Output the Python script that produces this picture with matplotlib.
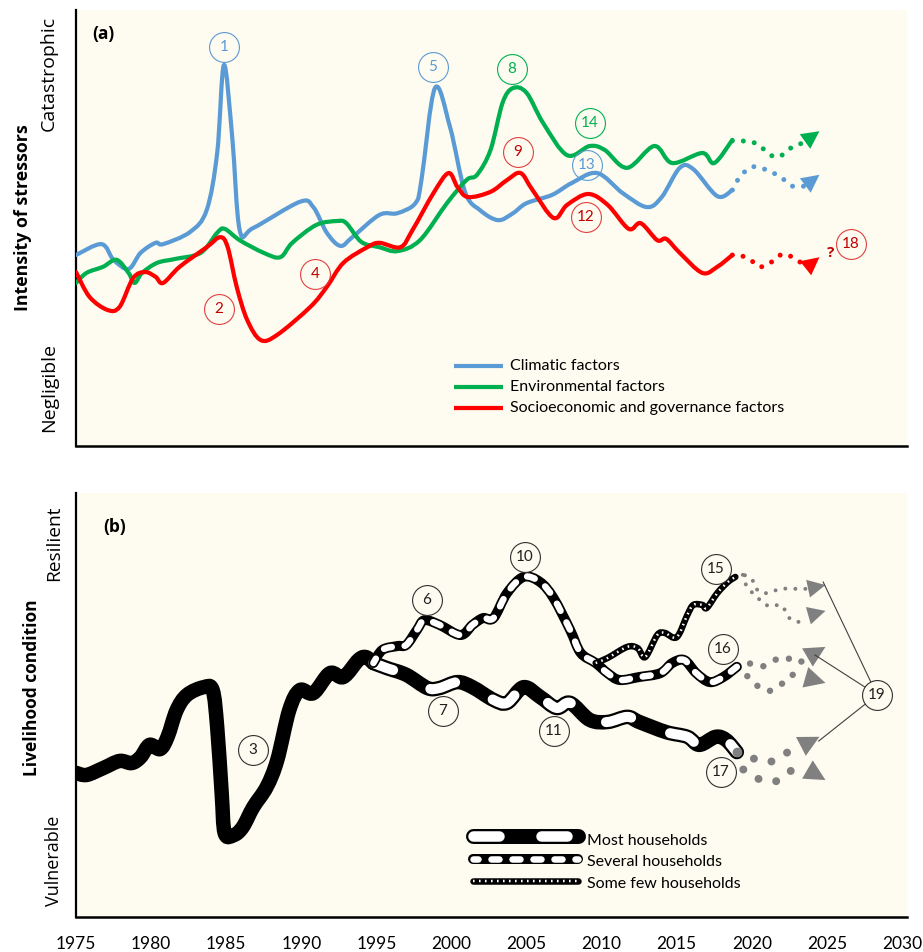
import numpy as np
import matplotlib
matplotlib.use('Agg')
import matplotlib.pyplot as plt
from matplotlib.path import Path
from matplotlib.patches import PathPatch

plt.rcParams['lines.scale_dashes'] = False

# ------------------------- DATA -------------------------
# Panel (a): intensity of stressors (0 = negligible, 100 = catastrophic)
clim_years = [1975.0, 1976.7, 1977.5, 1978.5, 1979.3, 1980.3, 1980.8, 1982.6, 1983.7, 1984.4, 1984.85,
              1985.4, 1985.9, 1986.8, 1989.9, 1990.8, 1991.7, 1992.6, 1993.4, 1995.2, 1996.4, 1997.6,
              1998.0, 1998.9, 1999.9, 2000.9, 2001.9, 2003.1, 2004.1, 2005.0, 2006.7, 2008.0, 2009.7,
              2011.4, 2013.0, 2014.0, 2015.2, 2016.1, 2017.7, 2018.7]
clim_vals = [43.8, 46.3, 42.7, 40.6, 44.3, 46.6, 46.3, 49.1, 54.1, 67.2, 87.4,
             70.9, 49.5, 50.0, 56.0, 54.8, 48.9, 45.9, 47.9, 53.0, 53.4, 55.7,
             61.0, 82.1, 73.2, 58.3, 54.1, 51.8, 53.4, 55.7, 57.6, 60.3, 62.6,
             58.0, 54.8, 57.1, 63.8, 63.5, 57.3, 58.7]
clim_proj_years = [2018.7, 2019.2, 2020.0, 2021.0, 2021.9, 2022.7, 2023.5]
clim_proj_vals = [58.7, 61.7, 64.0, 63.3, 61.7, 59.6, 59.6]
clim_tip = (2024.5, 62.2)

env_years = [1975.0, 1975.7, 1976.8, 1977.7, 1978.5, 1978.9, 1979.4, 1980.4, 1981.6, 1983.3, 1984.4,
             1984.9, 1985.9, 1987.5, 1988.6, 1989.4, 1991.0, 1992.4, 1993.0, 1994.0, 1995.2, 1996.4,
             1997.9, 1999.7, 2001.0, 2001.7, 2002.6, 2003.4, 2004.1, 2005.0, 2006.1, 2007.7, 2009.2,
             2010.2, 2011.7, 2013.5, 2014.7, 2016.7, 2017.5, 2018.7]
env_vals = [37.4, 39.7, 41.1, 42.7, 39.7, 37.4, 39.7, 42.0, 42.9, 44.3, 48.9,
            49.8, 47.2, 44.3, 43.3, 46.6, 50.7, 51.6, 51.1, 46.8, 45.6, 44.7,
            47.2, 55.7, 61.0, 62.2, 67.9, 78.7, 82.1, 81.0, 74.1, 66.7, 68.8,
            67.9, 63.8, 68.8, 64.9, 67.2, 64.9, 70.2]
env_proj_years = [2018.7, 2019.2, 2020.2, 2021.1, 2021.5, 2022.0, 2022.7, 2023.4]
env_proj_vals = [70.0, 70.0, 69.5, 67.2, 66.3, 66.7, 68.6, 69.5]
env_tip = (2024.5, 72.2)

soc_years = [1975.0, 1975.9, 1977.1, 1977.9, 1978.8, 1979.6, 1980.3, 1980.8, 1981.9, 1983.7, 1984.6,
             1985.1, 1985.7, 1986.4, 1987.3, 1988.4, 1990.6, 1991.7, 1992.8, 1994.4, 1995.2, 1996.6,
             1997.4, 1998.8, 1999.8, 2000.4, 2001.1, 2002.6, 2003.7, 2004.6, 2005.4, 2006.8, 2007.7,
             2009.1, 2010.4, 2011.8, 2012.6, 2013.7, 2014.3, 2015.2, 2016.7, 2017.7, 2018.7]
soc_vals = [39.9, 34.2, 31.2, 31.9, 38.5, 39.9, 38.8, 37.4, 41.1, 45.6, 47.9,
            45.6, 36.5, 28.9, 24.3, 25.5, 31.9, 36.5, 42.0, 45.6, 46.6, 45.6,
            49.5, 58.0, 62.6, 59.4, 57.1, 58.3, 61.0, 62.6, 58.7, 52.3, 55.3,
            57.8, 55.3, 49.8, 51.1, 47.2, 47.5, 44.3, 39.7, 41.1, 43.8]
soc_proj_years = [2018.7, 2019.2, 2020.1, 2020.5, 2021.1, 2021.9, 2022.4, 2023.2, 2023.7]
soc_proj_vals = [43.8, 43.8, 42.2, 41.1, 41.7, 43.8, 43.8, 42.2, 41.1]
soc_tip = (2024.5, 43.3)

top_labels = ['1', '2', '4', '5', '8', '9', '12', '13', '14', '18']
top_label_x = [1984.85, 1984.52, 1990.91, 1998.77, 2004.03, 2004.43, 2008.95, 2009.02, 2009.22, 2026.6]
top_label_y = [91.5, 31.4, 39.4, 86.9, 86.5, 67.4, 52.5, 64.4, 74.1, 46.3]
top_label_series = ['clim', 'soc', 'soc', 'clim', 'env', 'soc', 'soc', 'clim', 'env', 'soc']

# Panel (b): livelihood condition (0 = vulnerable, 100 = resilient)
main_years = [1975.0, 1975.7, 1976.8, 1977.9, 1978.7, 1979.3, 1979.9, 1980.6, 1981.1, 1981.7, 1982.4,
              1983.5, 1984.1, 1984.4, 1984.7, 1984.9, 1985.5, 1986.1, 1986.8, 1987.7, 1988.4, 1989.2,
              1989.9, 1990.8, 1991.9, 1992.8, 1993.8, 1994.3, 1994.8]
main_vals = [34.0, 33.5, 35.1, 36.8, 36.3, 37.7, 40.6, 39.6, 42.5, 48.8, 52.4,
             54.2, 53.5, 44.8, 29.2, 19.8, 19.3, 21.2, 25.9, 30.7, 37.0, 48.8,
             53.5, 52.8, 57.5, 56.6, 60.6, 61.3, 59.9]
most_years = [1994.8, 1995.7, 1997.0, 1998.4, 1999.2, 2000.4, 2001.4, 2002.8, 2003.7, 2004.8, 2005.9,
              2007.0, 2007.9, 2009.2, 2010.4, 2011.7, 2012.5, 2014.3, 2015.7, 2016.5, 2017.6, 2018.3, 2019.0]
most_vals = [59.9, 58.7, 57.1, 54.0, 54.0, 55.4, 54.2, 51.2, 50.5, 54.2, 51.9,
             49.3, 50.5, 46.5, 46.0, 47.2, 46.0, 43.6, 42.5, 40.6, 42.5, 41.7, 38.9]
several_years = [1994.8, 1995.4, 1996.4, 1997.0, 1997.7, 1998.2, 1999.2, 2000.6, 2001.4, 2002.1, 2002.8,
                 2003.7, 2004.8, 2005.9, 2006.8, 2007.9, 2008.6, 2009.6, 2010.4, 2011.2, 2012.5, 2013.9,
                 2014.7, 2015.5, 2016.3, 2017.2, 2018.1, 2019.0]
several_vals = [59.9, 63.0, 63.9, 64.2, 67.7, 70.0, 68.9, 66.5, 68.9, 70.5, 70.5,
                76.4, 80.2, 79.0, 75.2, 67.7, 62.3, 59.9, 57.5, 55.9, 56.6, 57.5,
                59.9, 60.6, 57.5, 55.4, 56.6, 59.0]
few_years = [2009.6, 2010.4, 2011.7, 2012.4, 2012.9, 2013.7, 2014.2, 2015.0, 2015.7, 2016.1, 2016.7,
             2017.0, 2017.7, 2018.4, 2018.9]
few_vals = [59.9, 61.1, 63.7, 63.4, 61.3, 66.5, 67.0, 66.0, 71.2, 73.6, 73.6,
            72.9, 76.4, 79.0, 80.2]

# grey scenario projections: (years, values, arrow tip)
proj_few_up = ([2018.9, 2019.4, 2020.0, 2020.2, 2020.7, 2021.3, 2021.9, 2022.5, 2023.2, 2023.7],
               [80.2, 80.7, 79.7, 77.8, 76.4, 76.7, 77.4, 77.4, 77.4, 77.4], (2024.9, 78.3))
proj_few_down = ([2019.4, 2019.7, 2020.7, 2021.2, 2021.9, 2022.2, 2022.5, 2023.1, 2023.5],
                 [80.7, 77.8, 74.3, 73.3, 73.6, 72.4, 70.5, 69.6, 70.8], (2024.9, 72.2))
proj_sev_up = ([2019.0, 2019.7, 2020.6, 2021.4, 2022.2, 2023.0, 2023.6],
               [59.0, 59.9, 59.0, 60.4, 61.3, 59.9, 61.0], (2024.9, 63.7))
proj_sev_down = ([2019.0, 2019.7, 2020.3, 2021.1, 2022.0, 2022.7, 2023.5],
                 [59.0, 56.8, 54.7, 53.3, 55.0, 57.1, 56.6], (2024.9, 55.2))
proj_most_up = ([2019.0, 2020.0, 2021.2, 2022.3, 2023.3],
                [38.7, 37.5, 36.6, 38.7, 40.3], (2024.5, 42.5))
proj_most_down = ([2019.0, 2019.4, 2020.5, 2021.7, 2022.7, 2023.4],
                  [38.7, 34.9, 32.5, 32.1, 34.7, 35.4], (2024.9, 32.3))

bot_labels = ['3', '6', '7', '10', '11', '15', '16', '17', '19']
bot_label_x = [1986.78, 1998.37, 1999.43, 2004.89, 2006.82, 2017.61, 2018.08, 2017.94, 2028.33]
bot_label_y = [39.4, 74.8, 48.6, 84.9, 43.9, 82.1, 63.2, 34.2, 52.4]

xticks = [1975, 1980, 1985, 1990, 1995, 2000, 2005, 2010, 2015, 2020, 2025, 2030]

# ------------------------- STYLE -------------------------
BG = '#FEFCF0'
COL = {'clim': '#5B9BD5', 'env': '#00B050', 'soc': '#FF0000'}
TXT = {'clim': '#5B9BD5', 'env': '#00B050', 'soc': '#C00000'}
GREY = '#808080'
PX = 0.72  # points per pixel at 100 dpi
NUMFONT = ['Lato', 'DejaVu Sans']
LABFONT = ['Open Sans', 'DejaVu Sans']

W, H = 923, 952
fig = plt.figure(figsize=(W / 100, H / 100), dpi=100)


def px_axes(l, t, r, b):
    return fig.add_axes([l / W, 1 - b / H, (r - l) / W, (b - t) / H])


ax1 = px_axes(76, 10, 907, 446)
ax2 = px_axes(76, 493, 907, 917)
for ax in (ax1, ax2):
    ax.set_facecolor(BG)
    ax.set_xlim(1975, 2030.33)
    ax.set_ylim(0, 100)
    ax.spines['top'].set_visible(False)
    ax.spines['right'].set_visible(False)
    ax.spines['left'].set_linewidth(1.6)
    ax.spines['bottom'].set_linewidth(1.8)
    ax.set_yticks([])
ax1.set_xticks([])
ax2.set_xticks(xticks)
ax2.set_xticklabels([str(t) for t in xticks], fontsize=12.5, family=NUMFONT)
ax2.tick_params(axis='x', length=0, pad=14)


def smooth_path(xs, ys):
    P = np.column_stack([xs, ys]).astype(float)
    n = len(P)
    verts = [P[0]]
    codes = [Path.MOVETO]
    for i in range(n - 1):
        p0 = P[i - 1] if i > 0 else P[i]
        p1, p2 = P[i], P[i + 1]
        p3 = P[i + 2] if i + 2 < n else P[i + 1]
        verts += [p1 + (p2 - p0) / 6, p2 - (p3 - p1) / 6, p2]
        codes += [Path.CURVE4] * 3
    return Path(verts, codes)


def curve(ax, xs, ys, color, lw_px, ls='-', cap='round', z=2):
    p = PathPatch(smooth_path(xs, ys), fill=False, edgecolor=color, linewidth=lw_px * PX,
                  linestyle=ls, capstyle=cap, joinstyle='round', zorder=z)
    ax.add_patch(p)


def dots(gap_px):
    return (0, (0.01, gap_px * PX))


def arrow(ax, start, tip, color, size, z=3):
    ax.annotate('', xy=tip, xytext=start, zorder=z,
                arrowprops=dict(arrowstyle='-|>,head_length=0.75,head_width=0.38',
                                mutation_scale=size, fc=color, ec=color, lw=0.01,
                                shrinkA=0, shrinkB=0))


# ------------------------- PANEL (a) -------------------------
series = [('clim', clim_years, clim_vals, clim_proj_years, clim_proj_vals, clim_tip),
          ('env', env_years, env_vals, env_proj_years, env_proj_vals, env_tip),
          ('soc', soc_years, soc_vals, soc_proj_years, soc_proj_vals, soc_tip)]
for key, xs, ys, pxs, pys, tip in series:
    curve(ax1, xs, ys, COL[key], 4.2, z=3)
    curve(ax1, pxs, pys, COL[key], 5.0, ls=dots(11), z=3)
    arrow(ax1, (pxs[-1], pys[-1]), tip, COL[key], 17)

for lab, x, y, s in zip(top_labels, top_label_x, top_label_y, top_label_series):
    ax1.plot(x, y, 'o', ms=21.5, mfc='none', mec=TXT[s] if s != 'soc' else '#E04040', mew=0.8, zorder=4)
    ax1.text(x, y, lab, ha='center', va='center', color=TXT[s], fontsize=11, family=NUMFONT, zorder=5)
ax1.text(2025.25, 44.3, '?', ha='center', va='center', color='#C00000', fontsize=11,
         fontweight='bold', family=LABFONT)

ax1.text(0.020, 0.944, '(a)', transform=ax1.transAxes, fontsize=12.5, fontweight='bold',
         family=LABFONT, ha='left', va='center')

leg_names = ['Climatic factors', 'Environmental factors', 'Socioeconomic and governance factors']
leg_keys = ['clim', 'env', 'soc']
for i, (nm, k) in enumerate(zip(leg_names, leg_keys)):
    yy = (446 - (366 + 21 * i)) / 436
    ax1.plot([0.455, 0.514], [yy, yy], color=COL[k], lw=4.2 * PX, transform=ax1.transAxes,
             solid_capstyle='butt')
    ax1.text(0.522, yy, nm, transform=ax1.transAxes, fontsize=11.5, family=NUMFONT,
             ha='left', va='center')

# ------------------------- PANEL (b) -------------------------
MOST_DASH = (5 * PX, (26 * PX, 42 * PX))
SEV_DASH = (3 * PX, (8 * PX, 13 * PX))
FEW_DASH = (0, (1.6 * PX, 4.4 * PX))

curve(ax2, main_years, main_vals, 'black', 14.5, z=2)
curve(ax2, most_years, most_vals, 'black', 14.5, z=2)
curve(ax2, most_years, most_vals, 'white', 10, ls=MOST_DASH, z=2.1)
ax2.plot(most_years[-1], most_vals[-1], 'o', ms=6, color=GREY, zorder=2.2)
curve(ax2, several_years, several_vals, 'black', 10, z=2.3)
curve(ax2, several_years, several_vals, 'white', 6.5, ls=SEV_DASH, z=2.4)
curve(ax2, few_years, few_vals, 'black', 6.5, z=2.5)
curve(ax2, few_years, few_vals, 'white', 2.5, ls=FEW_DASH, cap='butt', z=2.6)

proj_specs = [(proj_few_up, 4, 10, 17), (proj_few_down, 4, 10, 17),
              (proj_sev_up, 6.5, 14, 20), (proj_sev_down, 6.5, 14, 20),
              (proj_most_up, 8, 18, 20), (proj_most_down, 8, 18, 20)]
for (xs, ys, tip), dia, gap, hs in proj_specs:
    curve(ax2, xs, ys, GREY, dia, ls=dots(gap), z=2)
    arrow(ax2, (xs[-1], ys[-1]), tip, GREY, hs)

# connectors from circle 19 to scenario arrows
c19 = (bot_label_x[-1], bot_label_y[-1])
for tgt in [(2024.75, 79.0), (2024.2, 61.8), (2024.45, 41.5)]:
    ax2.plot([c19[0], tgt[0]], [c19[1], tgt[1]], color='#404040', lw=0.8, zorder=3)

for lab, x, y in zip(bot_labels, bot_label_x, bot_label_y):
    ax2.plot(x, y, 'o', ms=21.5, mfc=BG, mec='#303030', mew=0.8, zorder=4)
    ax2.text(x, y, lab, ha='center', va='center', color='#202020', fontsize=11,
             family=NUMFONT, zorder=5)

ax2.text(0.033, 0.92, '(b)', transform=ax2.transAxes, fontsize=12.5, fontweight='bold',
         family=LABFONT, ha='left', va='center')

# legend (b)
lx0, lx1 = (473 - 76) / 831, (578 - 76) / 831
ly = [(917 - 836) / 424, (917 - 859) / 424, (917 - 881) / 424]
ax2.plot([lx0, lx1], [ly[0]] * 2, color='black', lw=15 * PX, transform=ax2.transAxes,
         solid_capstyle='round')
ax2.plot([lx0, lx1], [ly[0]] * 2, color='white', lw=10.5 * PX, transform=ax2.transAxes,
         dash_capstyle='round', linestyle=(0, (26 * PX, 42 * PX)))
ax2.plot([lx0, lx1], [ly[1]] * 2, color='black', lw=10 * PX, transform=ax2.transAxes,
         solid_capstyle='round')
ax2.plot([lx0, lx1], [ly[1]] * 2, color='white', lw=6.5 * PX, transform=ax2.transAxes,
         dash_capstyle='round', linestyle=SEV_DASH)
ax2.plot([lx0, lx1], [ly[2]] * 2, color='black', lw=6.5 * PX, transform=ax2.transAxes,
         solid_capstyle='round')
ax2.plot([lx0, lx1], [ly[2]] * 2, color='white', lw=2.5 * PX, transform=ax2.transAxes,
         dash_capstyle='butt', linestyle=FEW_DASH)
for yy, nm in zip([(917 - 841) / 424, (917 - 862) / 424, (917 - 884) / 424],
                  ['Most households', 'Several households', 'Some few households']):
    ax2.text((587 - 76) / 831, yy, nm, transform=ax2.transAxes, fontsize=11.5,
             family=NUMFONT, ha='left', va='center')

# ------------------------- AXIS TITLES -------------------------
def ftext(x, y, s, **kw):
    fig.text(x / W, 1 - y / H, s, rotation=90, ha='center', va='center', **kw)


ftext(49, 73, 'Catastrophic', fontsize=14, family=LABFONT)
ftext(49, 388, 'Negligible', fontsize=14, family=LABFONT)
ftext(23, 218, 'Intensity of stressors', fontsize=12.8, fontweight='bold', family=LABFONT)
ftext(54, 543, 'Resilient', fontsize=13.8, family=LABFONT)
ftext(54, 861, 'Vulnerable', fontsize=13, family=LABFONT)
ftext(32, 688, 'Livelihood condition', fontsize=12.5, fontweight='bold', family=LABFONT)

fig.savefig('out.png', dpi=100, facecolor='white')
